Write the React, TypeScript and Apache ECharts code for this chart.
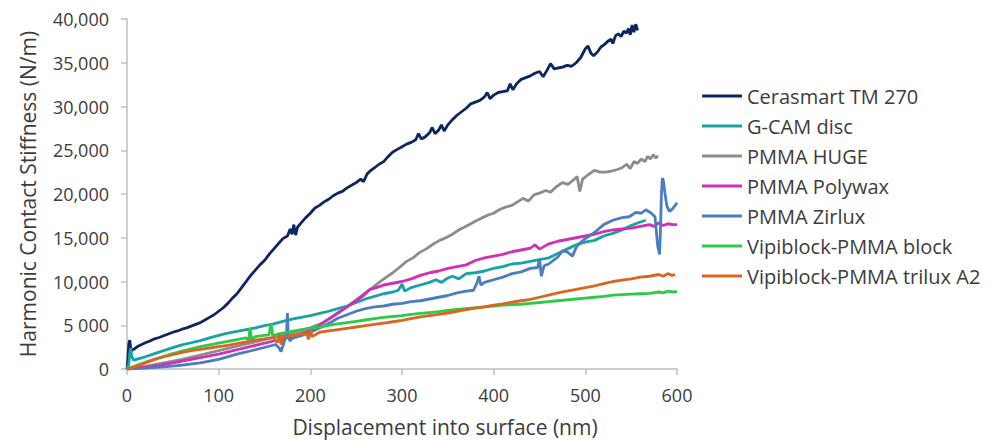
import React, { useEffect, useRef } from "react";
import * as echarts from "echarts";

const seriesNames = [
  "Cerasmart TM 270",
  "G-CAM disc",
  "PMMA HUGE",
  "PMMA Polywax",
  "PMMA Zirlux",
  "Vipiblock-PMMA block",
  "Vipiblock-PMMA trilux A2",
];

const seriesColors = ["#0d2660", "#17a3a3", "#8c8c8c", "#d12fb8", "#4a7dbf", "#2ec84a", "#d9661f"];

const xTicks = [0, 100, 200, 300, 400, 500, 600];
const yTickLabels: Record<number, string> = {
  0: "0", 5000: "5 000", 10000: "10,000", 15000: "15,000", 20000: "20,000",
  25000: "25,000", 30000: "30,000", 35000: "35,000", 40000: "40,000",
};

const cerasmart = [
  [0,0],[1,1200],[2,2900],[3,3300],[4,2400],[5,2100],[8,2300],[12,2600],[16,2800],[20,3000],[25,3200],[30,3450],[35,3600],[40,3800],[45,4000],[50,4200],[55,4350],[60,4550],[65,4700],[70,4900],[75,5100],[80,5300],[85,5600],[90,5900],[95,6200],[100,6600],[105,7000],[110,7500],[115,8100],[120,8600],[125,9300],[130,10000],[135,10700],[140,11300],[145,11900],[150,12400],[155,13100],[160,13700],[165,14300],[170,14900],[175,15200],[178,16000],[180,15400],[182,16500],[184,15300],[186,16200],[190,16700],[195,17300],[200,17800],[205,18400],[210,18700],[215,19100],[220,19400],[225,19800],[230,20100],[235,20300],[240,20700],[245,21000],[250,21300],[255,21700],[258,21400],[262,22300],[266,22700],[270,23000],[275,23400],[280,23700],[285,24300],[290,24800],[295,25100],[300,25400],[305,25700],[310,25900],[315,26200],[318,26900],[321,26300],[325,26500],[330,27000],[333,27600],[336,26900],[340,27300],[343,27900],[346,27200],[350,27900],[355,28500],[360,29000],[365,29400],[370,29800],[375,30300],[380,30500],[385,30700],[390,31100],[393,31600],[396,30900],[400,31300],[405,31600],[410,31700],[415,31800],[418,32600],[421,31900],[425,32600],[430,33100],[435,33300],[440,33500],[445,33800],[450,34000],[454,33400],[458,34100],[462,34900],[466,34300],[470,34400],[475,34500],[480,34700],[485,34600],[490,35000],[495,35600],[500,36600],[503,36900],[506,36100],[509,35800],[513,36200],[517,36800],[521,37100],[525,37500],[528,37700],[530,37200],[533,38100],[536,38300],[539,38000],[542,38600],[545,38400],[547,38900],[549,38200],[551,39300],[553,38500],[555,39400],[557,38700],
];

const gcam = [
  [0,0],[2,600],[3,1800],[4,2400],[5,1500],[7,1000],[10,1100],[15,1250],[20,1400],[30,1750],[40,2100],[50,2450],[60,2750],[70,3000],[80,3250],[90,3550],[100,3850],[110,4100],[120,4300],[130,4500],[140,4700],[150,4950],[160,5150],[170,5450],[180,5700],[190,5900],[200,6100],[210,6350],[220,6600],[230,6900],[240,7200],[250,7600],[260,8000],[270,8300],[280,8600],[290,8800],[296,9000],[300,9700],[303,8900],[310,9300],[320,9600],[330,9900],[337,10200],[343,9900],[350,10400],[355,10600],[362,10300],[370,10900],[380,11000],[390,11200],[400,11500],[410,11700],[420,12000],[430,12100],[440,12300],[450,12500],[460,12700],[470,13200],[480,13700],[490,14200],[500,14500],[510,14700],[520,15200],[530,15500],[540,15900],[550,16400],[560,16800],[566,17000],
];

const huge = [
  [0,0],[20,300],[40,700],[60,1100],[80,1600],[100,2100],[120,2600],[140,3100],[160,3600],[180,4100],[200,4700],[210,5100],[220,5700],[230,6400],[240,7100],[250,7900],[260,8700],[268,9300],[275,9900],[283,10500],[290,11000],[297,11600],[305,12300],[312,12700],[319,13300],[326,13700],[333,14200],[341,14700],[348,15000],[355,15400],[362,15900],[368,16200],[375,16600],[382,17000],[388,17300],[394,17600],[400,17800],[406,18200],[413,18500],[420,18700],[426,19100],[432,19500],[438,19200],[444,19900],[450,20100],[457,20400],[462,20200],[468,20800],[475,21300],[481,21100],[487,21600],[491,22000],[494,20300],[497,21700],[503,22200],[510,22700],[516,22500],[522,22500],[528,22600],[535,22800],[540,23000],[545,23400],[549,22900],[553,23700],[557,23500],[561,24000],[565,23700],[568,24300],[571,24000],[574,24500],[577,24100],[579,24400],
];

const polywax = [
  [0,0],[20,200],[40,500],[60,900],[80,1300],[100,1700],[120,2200],[140,2700],[160,3200],[180,3700],[200,4400],[210,5000],[220,5700],[230,6400],[240,7100],[250,7800],[258,8400],[265,9100],[272,9300],[280,9600],[290,9800],[300,10000],[310,10300],[320,10700],[330,11000],[340,11200],[350,11500],[360,11700],[370,11900],[380,12400],[390,12700],[400,12900],[410,13100],[420,13400],[430,13600],[440,13800],[445,14200],[450,13700],[460,14300],[470,14600],[480,14800],[490,15000],[500,15200],[510,15400],[520,15700],[530,15900],[540,16000],[550,16100],[560,16300],[570,16500],[575,16300],[580,16700],[585,16400],[590,16600],[595,16500],[600,16500],
];

const zirlux = [
  [0,0],[10,50],[20,100],[40,250],[60,450],[80,700],[100,1100],[120,1700],[140,2200],[155,2600],[162,2800],[166,2400],[168,2000],[170,2600],[172,3300],[174,3800],[175,6400],[176,3600],[178,3200],[180,3500],[190,3800],[200,4200],[210,4700],[220,5200],[230,5800],[240,6200],[250,6600],[260,6900],[270,7100],[280,7200],[290,7400],[300,7500],[310,7700],[320,7800],[330,8000],[340,8200],[350,8400],[360,8700],[370,8900],[378,9000],[382,9900],[384,10600],[386,9600],[390,9900],[400,10200],[410,10500],[420,10900],[430,11100],[440,11500],[448,11600],[450,12600],[452,10600],[455,11800],[460,12000],[470,12800],[475,13500],[480,13400],[486,12900],[490,13900],[494,14400],[500,14900],[510,15600],[520,16500],[530,17000],[540,17300],[548,17400],[555,17900],[561,17800],[566,18200],[572,17800],[576,17400],[579,14000],[581,13100],[582,16000],[583,20000],[584,21800],[585,21600],[587,20000],[589,18600],[592,18000],[595,18300],[598,18700],[600,19000],
];

const vipiBlock = [
  [0,0],[10,400],[20,750],[30,1100],[40,1450],[50,1750],[60,2050],[70,2300],[80,2550],[90,2750],[100,2950],[110,3150],[120,3350],[130,3550],[133,3300],[134,4700],[136,3400],[140,3700],[150,3850],[155,3900],[157,5200],[159,3800],[165,4000],[170,4100],[180,4300],[190,4500],[200,4650],[210,4800],[220,5000],[230,5150],[240,5300],[250,5450],[260,5600],[270,5750],[280,5900],[290,6000],[300,6100],[310,6250],[320,6350],[330,6450],[340,6550],[350,6700],[360,6800],[370,6900],[380,7000],[390,7100],[400,7200],[410,7300],[420,7350],[430,7400],[440,7500],[450,7600],[460,7700],[470,7800],[480,7900],[490,8000],[500,8100],[510,8200],[520,8300],[530,8450],[540,8500],[550,8550],[560,8600],[570,8650],[580,8800],[585,8700],[590,8900],[595,8800],[600,8850],
];

const vipiTrilux = [
  [0,0],[10,300],[20,700],[30,1100],[40,1400],[50,1650],[60,1900],[70,2100],[80,2250],[90,2400],[100,2550],[110,2700],[120,2900],[130,3100],[140,3300],[150,3450],[160,3600],[164,3000],[166,3900],[168,2800],[170,3700],[180,3800],[190,3950],[196,4100],[198,3400],[200,4400],[202,3700],[210,4200],[220,4350],[230,4500],[240,4650],[250,4800],[260,4950],[270,5100],[280,5250],[290,5400],[300,5550],[310,5750],[320,5950],[330,6100],[340,6250],[350,6400],[360,6600],[370,6800],[380,6950],[390,7100],[400,7300],[410,7450],[420,7650],[430,7800],[440,7950],[450,8200],[460,8450],[470,8700],[480,8900],[490,9100],[500,9300],[510,9500],[520,9750],[530,10000],[540,10150],[550,10300],[560,10500],[570,10600],[580,10800],[585,10600],[590,10900],[595,10700],[598,10800],
];

const seriesData = [cerasmart, gcam, huge, polywax, zirlux, vipiBlock, vipiTrilux];

const FONT = "'Open Sans', 'Noto Sans', sans-serif";
const TEXT_COLOR = "#3c3c3c";
const AXIS_COLOR = "#bfbfbf";

export default function App() {
  const ref = useRef<HTMLDivElement>(null);
  useEffect(() => {
    if (!ref.current) return;
    const chart = echarts.init(ref.current, undefined, { renderer: "svg" });
    chart.setOption({
      animation: false,
      backgroundColor: "#ffffff",
      grid: { left: 127, right: 312, top: 19, bottom: 72, containLabel: false },
      xAxis: {
        type: "value",
        min: 0,
        max: 600,
        interval: 100,
        axisLine: { show: true, lineStyle: { color: AXIS_COLOR, width: 1.5 } },
        axisTick: { show: true, length: 6, lineStyle: { color: AXIS_COLOR, width: 1.5 } },
        splitLine: { show: false },
        axisLabel: {
          margin: 17,
          color: TEXT_COLOR,
          fontFamily: FONT,
          fontSize: 18,
          formatter: (v: number) => (xTicks.includes(v) ? String(v) : ""),
        },
      },
      yAxis: {
        type: "value",
        min: 0,
        max: 40000,
        interval: 5000,
        name: "Harmonic Contact Stiffness (N/m)",
        nameLocation: "middle",
        nameGap: 89,
        nameTextStyle: { color: TEXT_COLOR, fontFamily: FONT, fontSize: 21 },
        axisLine: { show: true, lineStyle: { color: AXIS_COLOR, width: 1.5 } },
        axisTick: { show: true, length: 6, lineStyle: { color: AXIS_COLOR, width: 1.5 } },
        splitLine: { show: false },
        axisLabel: {
          margin: 18,
          color: TEXT_COLOR,
          fontFamily: FONT,
          fontSize: 18,
          formatter: (v: number) => yTickLabels[v] ?? "",
        },
      },
      legend: {
        orient: "vertical",
        left: 702,
        top: 86,
        padding: 0,
        icon: "rect",
        itemWidth: 40,
        itemHeight: 3,
        itemGap: 10,
        textStyle: { color: TEXT_COLOR, fontFamily: FONT, fontSize: 20, lineHeight: 20 },
        data: seriesNames,
      },
      graphic: [
        {
          type: "text",
          x: 445,
          y: 427,
          style: {
            text: "Displacement into surface (nm)",
            fill: TEXT_COLOR,
            fontFamily: FONT,
            fontSize: 21,
            align: "center",
            verticalAlign: "middle",
          },
        },
      ],
      series: seriesNames.map((name, i) => ({
        name,
        type: "line",
        data: seriesData[i],
        showSymbol: false,
        symbol: "none",
        smooth: false,
        color: seriesColors[i],
        lineStyle: { color: seriesColors[i], width: 2.8 },
      })),
    });
    return () => chart.dispose();
  }, []);
  return (
    <div
      ref={ref}
      style={{ position: "fixed", left: 0, top: 0, width: 989, height: 441, background: "#fff" }}
    />
  );
}
